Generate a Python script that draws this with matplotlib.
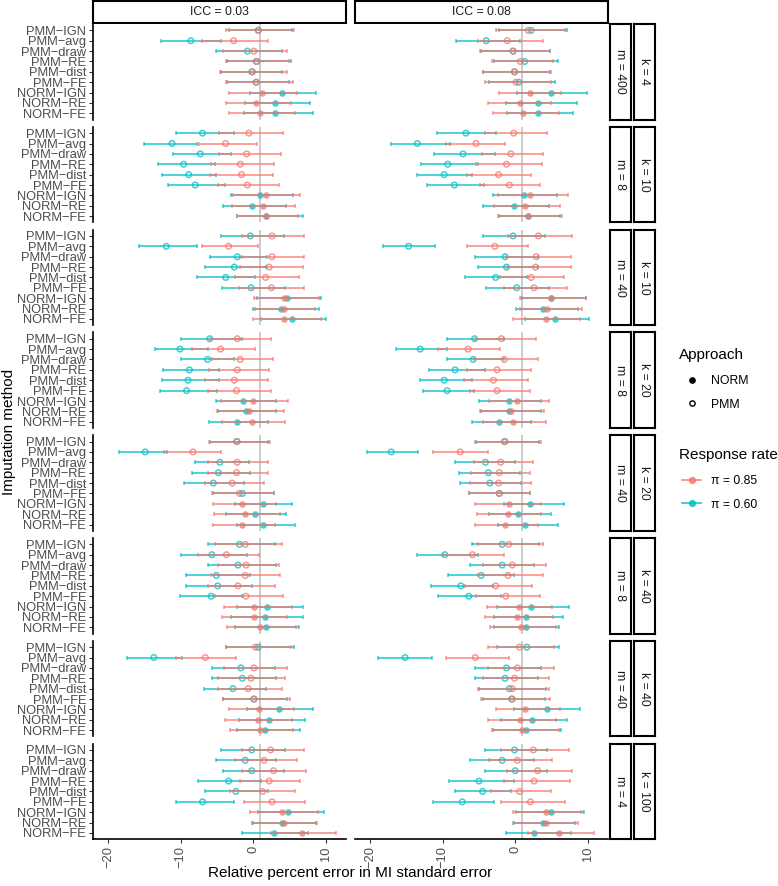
import matplotlib
matplotlib.use("Agg")
import matplotlib.pyplot as plt
from matplotlib.lines import Line2D

plt.rcParams['font.family'] = ['Liberation Sans', 'DejaVu Sans']

W, H = 778, 886
RED = '#F8766D'
TEAL = '#00BFC4'

methods = ["PMM\u2212IGN", "PMM\u2212avg", "PMM\u2212draw", "PMM\u2212RE", "PMM\u2212dist",
           "PMM\u2212FE", "NORM\u2212IGN", "NORM\u2212RE", "NORM\u2212FE"]
row_m = [400, 8, 40, 8, 40, 8, 40, 4]
row_k = [4, 10, 10, 20, 20, 40, 40, 100]
icc_labels = ["ICC = 0.03", "ICC = 0.08"]
pi_labels = ["\u03c0 = 0.85", "\u03c0 = 0.60"]

# ICC = 0.03, pi = 0.85
est_03_85 = [[0.7, -2.7, 0.1, 0.4, -0.1, 0.4, 1.2, 0.4, 1.0],
             [-0.6, -3.8, -0.9, -1.8, -1.6, -0.8, 1.7, 1.3, 1.7],
             [2.6, -3.4, 2.6, 2.2, 1.7, 2.5, 4.2, 4.3, 4.2],
             [-2.2, -4.5, -1.8, -2.2, -2.6, -2.3, 0.0, -0.6, -0.1],
             [-2.2, -8.3, -2.2, -2.3, -2.9, -1.9, -1.5, -1.2, -1.5],
             [-1.1, -3.7, -1.0, -1.1, -2.1, -1.0, 0.1, 0.1, 0.9],
             [0.3, -6.6, 0.1, -0.3, -0.7, 0.1, 0.8, 0.6, 1.0],
             [2.4, 1.5, 2.8, 2.2, 1.3, 2.6, 4.0, 4.2, 6.7]]
lo_03_85 = [[-3.7, -7.0, -4.1, -3.8, -4.6, -3.8, -3.4, -3.7, -3.3],
            [-4.7, -7.5, -4.7, -5.8, -5.9, -4.8, -2.8, -2.9, -2.2],
            [-1.5, -7.0, -1.5, -1.8, -2.5, -1.9, 0.1, 0.2, 0.0],
            [-5.9, -8.4, -5.7, -6.1, -6.7, -6.3, -4.5, -5.0, -4.3],
            [-6.1, -12.3, -6.2, -6.2, -6.7, -5.7, -5.5, -5.4, -5.5],
            [-5.3, -7.6, -4.8, -5.8, -6.2, -5.3, -4.0, -4.3, -3.6],
            [-3.8, -10.6, -4.0, -4.9, -4.8, -4.2, -3.4, -3.9, -3.2],
            [-1.6, -2.5, -1.5, -1.8, -3.2, -1.3, -0.4, 0.0, 2.5]]
hi_03_85 = [[5.6, 2.1, 4.6, 4.9, 4.7, 5.5, 6.0, 5.2, 5.7],
            [4.1, 0.5, 3.8, 2.9, 2.7, 3.6, 6.4, 5.8, 6.2],
            [7.0, 0.6, 7.0, 6.8, 6.3, 7.0, 9.1, 8.5, 9.3],
            [2.4, 0.2, 2.7, 2.2, 2.1, 2.5, 4.8, 4.2, 4.4],
            [2.3, -4.5, 2.1, 2.1, 1.5, 2.8, 3.1, 3.7, 3.0],
            [4.0, 0.8, 3.6, 3.7, 3.0, 4.1, 5.3, 4.6, 5.9],
            [5.2, -2.4, 4.7, 4.4, 4.0, 5.1, 5.6, 5.4, 5.5],
            [7.0, 6.1, 7.3, 6.4, 5.8, 7.1, 9.0, 8.8, 11.4]]

# ICC = 0.03, pi = 0.60
est_03_60 = [[0.7, -8.6, -0.8, 0.5, -0.2, 0.4, 4.0, 3.0, 3.0],
             [-7.0, -11.2, -7.3, -9.6, -8.9, -8.0, 1.0, -0.1, 1.7],
             [-0.4, -12.0, -2.2, -2.6, -3.8, -0.3, 4.7, 3.8, 5.4],
             [-6.0, -10.1, -6.3, -8.8, -9.0, -9.2, -1.4, -1.0, -2.2],
             [-2.3, -14.9, -4.6, -4.8, -5.5, -1.5, 1.4, 0.3, 1.4],
             [-1.9, -5.7, -2.1, -5.1, -4.9, -5.8, 1.9, 1.6, 1.7],
             [0.7, -13.7, -1.7, -1.5, -2.8, 0.1, 3.6, 2.2, 1.6],
             [-0.2, -1.1, -0.2, -3.4, -2.4, -7.0, 4.8, 4.0, 2.8]]
lo_03_60 = [[-3.3, -12.7, -5.1, -3.6, -4.4, -3.6, -0.5, -1.1, -1.3],
            [-10.7, -15.1, -11.1, -13.1, -12.6, -11.7, -3.1, -4.1, -2.2],
            [-4.4, -15.8, -5.9, -6.7, -7.8, -4.3, 0.5, 0.0, 1.1],
            [-9.9, -13.6, -9.9, -12.4, -12.6, -12.8, -5.1, -4.9, -6.1],
            [-6.0, -18.5, -8.0, -8.5, -9.6, -5.5, -2.5, -3.7, -2.2],
            [-6.3, -9.9, -6.2, -9.3, -9.3, -10.1, -2.3, -3.1, -2.5],
            [-3.7, -17.4, -5.7, -5.7, -6.8, -4.1, -0.8, -1.9, -2.3],
            [-4.4, -5.1, -4.2, -7.6, -6.7, -10.7, 0.6, -0.1, -1.5]]
hi_03_60 = [[5.3, -4.5, 4.0, 5.2, 4.0, 4.9, 8.6, 7.8, 8.2],
            [-2.6, -7.7, -3.1, -5.3, -5.1, -3.9, 5.5, 4.5, 6.8],
            [4.2, -7.8, 1.9, 1.8, 0.3, 4.4, 9.3, 9.1, 10.0],
            [-1.6, -6.3, -2.6, -4.7, -4.7, -5.0, 3.1, 3.2, 2.0],
            [2.1, -11.9, -0.6, -0.5, -1.3, 2.9, 5.4, 4.5, 5.7],
            [3.0, -0.8, 3.1, -0.5, -0.1, -1.5, 6.9, 6.8, 6.3],
            [5.6, -9.8, 3.0, 3.1, 1.8, 4.6, 8.3, 7.1, 6.5],
            [4.4, 3.1, 4.2, 1.1, 2.1, -2.7, 9.7, 8.7, 7.6]]

# ICC = 0.08, pi = 0.85
est_08_85 = [[1.8, -1.1, -0.3, 0.7, -0.1, 0.1, 2.0, 0.6, 1.1],
             [-0.2, -5.4, -0.6, -1.2, -2.3, -0.8, 2.1, 1.4, 1.7],
             [3.2, -2.8, 2.9, 2.8, 2.2, 2.6, 4.9, 4.4, 4.3],
             [-1.9, -6.5, -1.5, -2.5, -3.0, -2.5, 0.2, -0.6, -0.3],
             [-1.4, -7.6, -2.0, -2.2, -2.3, -2.2, -0.8, -1.0, -1.4],
             [-0.9, -5.9, -0.4, -1.0, -2.7, -1.3, 0.5, 0.2, 0.8],
             [0.6, -5.5, 0.3, -0.1, -0.4, -0.4, 1.4, 0.7, 1.0],
             [2.5, 0.3, 3.1, 2.6, 0.6, 2.1, 4.3, 4.3, 6.1]]
lo_08_85 = [[-2.6, -5.1, -4.9, -3.2, -4.4, -4.1, -2.3, -3.8, -3.1],
            [-4.2, -9.5, -4.6, -5.4, -6.7, -4.8, -2.4, -2.9, -2.4],
            [-1.0, -6.6, -1.3, -1.2, -2.1, -1.6, 0.7, 0.6, -0.3],
            [-5.6, -10.7, -5.7, -6.6, -7.1, -6.2, -3.6, -4.8, -4.5],
            [-5.6, -11.3, -5.7, -6.1, -6.3, -6.4, -5.5, -5.3, -5.6],
            [-5.2, -10.0, -4.5, -5.2, -6.9, -5.4, -3.9, -4.1, -3.5],
            [-3.7, -9.5, -3.8, -4.4, -5.1, -4.7, -2.7, -3.8, -3.2],
            [-1.9, -3.6, -1.2, -1.6, -3.3, -2.0, -0.3, -0.1, 1.7]]
hi_08_85 = [[6.8, 3.8, 4.8, 5.2, 4.9, 4.9, 6.3, 4.9, 6.0],
            [4.4, -1.4, 3.9, 3.7, 2.2, 3.4, 7.3, 6.2, 6.4],
            [7.9, 1.7, 7.7, 7.7, 6.7, 7.2, 9.7, 9.2, 9.0],
            [2.8, -2.1, 3.1, 2.2, 1.7, 2.1, 4.6, 4.0, 4.3],
            [3.6, -3.8, 2.4, 2.1, 2.2, 2.1, 3.6, 3.6, 3.1],
            [3.9, -1.6, 4.3, 3.9, 2.3, 3.4, 5.1, 5.2, 5.6],
            [5.3, -0.8, 5.4, 4.6, 4.6, 4.8, 6.2, 5.6, 6.1],
            [7.4, 5.1, 7.8, 7.5, 5.0, 6.8, 9.1, 8.7, 10.9]]

# ICC = 0.08, pi = 0.60
est_08_60 = [[2.2, -4.0, -0.3, 1.3, -0.1, 0.5, 5.0, 3.2, 3.2],
             [-6.8, -13.5, -7.2, -9.3, -9.8, -8.4, 1.2, -0.2, 1.7],
             [-0.3, -14.7, -1.4, -1.2, -2.7, 0.2, 5.0, 3.9, 5.5],
             [-5.6, -13.1, -5.8, -8.3, -9.8, -9.4, -0.9, -0.8, -2.2],
             [-1.5, -17.1, -4.1, -3.7, -3.5, -2.2, 2.1, 0.4, 1.4],
             [-1.8, -9.7, -1.8, -4.7, -7.5, -6.4, 2.2, 1.5, 1.5],
             [1.6, -15.2, -1.2, -1.4, -0.8, -0.5, 4.4, 2.3, 1.5],
             [-0.1, -1.8, 0.0, -5.0, -4.5, -7.3, 5.0, 3.9, 2.6]]
lo_08_60 = [[-2.2, -8.2, -4.7, -2.9, -4.4, -3.6, 0.3, -1.3, -1.1],
            [-10.8, -17.1, -11.2, -13.0, -13.5, -12.2, -3.0, -4.4, -2.2],
            [-4.5, -18.2, -5.5, -5.1, -6.9, -4.0, 1.0, 0.1, 1.3],
            [-9.4, -16.4, -9.4, -11.9, -13.2, -12.7, -5.0, -4.7, -6.0],
            [-5.4, -20.5, -8.3, -7.8, -7.6, -6.4, -1.6, -3.6, -2.4],
            [-6.0, -13.6, -6.3, -9.3, -11.6, -10.7, -2.5, -2.9, -2.9],
            [-2.5, -18.9, -5.5, -5.5, -5.0, -4.5, -0.2, -2.0, -3.0],
            [-4.2, -6.3, -4.1, -9.2, -8.3, -11.3, 0.1, -0.3, -1.3]]
hi_08_60 = [[7.2, 0.6, 4.8, 5.9, 4.8, 5.5, 9.9, 8.5, 8.0],
            [-2.6, -9.0, -2.8, -5.2, -5.9, -4.3, 5.8, 4.6, 6.2],
            [4.1, -11.0, 3.1, 3.1, 1.6, 4.7, 9.8, 8.7, 10.2],
            [-1.5, -9.4, -1.5, -4.1, -6.0, -5.7, 3.5, 3.5, 2.2],
            [3.3, -13.4, 0.0, 0.6, 0.8, 2.1, 6.7, 4.9, 5.9],
            [3.3, -5.2, 2.6, -0.1, -3.1, -2.0, 7.4, 6.6, 6.1],
            [6.0, -11.5, 3.6, 3.1, 4.3, 4.1, 9.0, 7.2, 6.3],
            [4.4, 2.6, 4.4, -0.2, -0.6, -2.9, 9.5, 8.2, 7.7]]

columns = [
    dict(r=(est_03_85, lo_03_85, hi_03_85), t=(est_03_60, lo_03_60, hi_03_60)),
    dict(r=(est_08_85, lo_08_85, hi_08_85), t=(est_08_60, lo_08_60, hi_08_60)),
]

fig = plt.figure(figsize=(W / 100, H / 100), dpi=100)


def box(x0, y0, x1, y1):
    # pixel box (top-left origin) -> figure fraction rect
    return [x0 / W, 1 - y1 / H, (x1 - x0) / W, (y1 - y0) / H]


col_x = [(93, 346), (355, 608)]
row_top0, row_h, row_gap = 24.1, 95.5, 7.3
ypos = list(range(len(methods)))
n_pmm = 6


def strip(rect, label, rot=0):
    sa = fig.add_axes(rect)
    sa.set_xticks([])
    sa.set_yticks([])
    for s in sa.spines.values():
        s.set_linewidth(1.5)
        s.set_color('black')
    sa.text(0.5, 0.5, label, ha='center', va='center', rotation=rot,
            fontsize=8.8, color='#1A1A1A', transform=sa.transAxes)


for j, col in enumerate(columns):
    x0, x1 = col_x[j]
    strip(box(x0, 1, x1, 23.3), icc_labels[j])
    for i in range(len(row_m)):
        top = row_top0 + i * (row_h + row_gap)
        ax = fig.add_axes(box(x0, top, x1, top + row_h))
        ax.set_xlim(-22.1, 12.8)
        ax.set_ylim(8.6, -0.6)
        ax.axvline(1, color='#BEBEBE', lw=1.1, zorder=0)
        for (est, lo, hi), c in [(col['t'], TEAL), (col['r'], RED)]:
            e, l, h = est[i], lo[i], hi[i]
            err = [[a - b for a, b in zip(e, l)], [b - a for a, b in zip(e, h)]]
            ax.errorbar(e, ypos, xerr=err, fmt='none', ecolor=c, alpha=0.75,
                        elinewidth=1.3, capsize=1.6, capthick=1.1)
            ax.scatter(e[:n_pmm], ypos[:n_pmm], s=16, facecolors='none',
                       edgecolors=c, linewidths=1.1, alpha=0.75)
            ax.scatter(e[n_pmm:], ypos[n_pmm:], s=22, color=c, alpha=0.75,
                       linewidths=0)
        for s in ['top', 'right']:
            ax.spines[s].set_visible(False)
        ax.spines['left'].set_linewidth(1.2)
        ax.spines['bottom'].set_linewidth(1.2)
        ax.tick_params(length=2.75, width=0.8, color='#333333', pad=2.2,
                       labelsize=9.3, labelcolor='#4D4D4D')
        if j == 0:
            ax.set_yticks(ypos)
            ax.set_yticklabels(methods)
        else:
            ax.set_yticks([])
            ax.spines['left'].set_visible(False)
        if i == len(row_m) - 1:
            ax.set_xticks([-20, -10, 0, 10])
            ax.tick_params(axis='x', labelrotation=90)
        else:
            ax.set_xticks([])
            ax.spines['bottom'].set_visible(False)
        if j == 1:
            strip(box(609.5, top, 631.2, top + row_h), f"m = {row_m[i]}", rot=-90)
            strip(box(633.6, top, 655.2, top + row_h), f"k = {row_k[i]}", rot=-90)

fig.text(350.5 / W, 1 - 873 / H, "Relative percent error in MI standard error",
         ha='center', va='center', fontsize=11)
fig.text(9 / W, 1 - 432 / H, "Imputation method", ha='center', va='center',
         rotation=90, fontsize=11)

# legends
fig.text(679 / W, 1 - 355 / H, "Approach", ha='left', va='center', fontsize=11)
fig.text(679 / W, 1 - 455 / H, "Response rate", ha='left', va='center', fontsize=11)

approach_handles = [
    Line2D([], [], ls='none', marker='o', ms=3.8, color='black'),
    Line2D([], [], ls='none', marker='o', ms=3.8, mfc='none', mec='black', mew=1.0),
]
fig.legend(approach_handles, ["NORM", "PMM"],
           loc='center left', bbox_to_anchor=(677 / W, 1 - 393 / H),
           frameon=False, fontsize=8.8, handlelength=1.6, handletextpad=0.8,
           labelspacing=0.93, borderaxespad=0)
rate_handles = [
    Line2D([], [], color=RED, lw=1.3, marker='o', ms=4.2, alpha=0.8),
    Line2D([], [], color=TEAL, lw=1.3, marker='o', ms=4.2, alpha=0.8),
]
fig.legend(rate_handles, pi_labels,
           loc='center left', bbox_to_anchor=(677 / W, 1 - 493 / H),
           frameon=False, fontsize=8.8, handlelength=1.6, handletextpad=0.8,
           labelspacing=0.93, borderaxespad=0)

fig.savefig("out.png", dpi=100)
